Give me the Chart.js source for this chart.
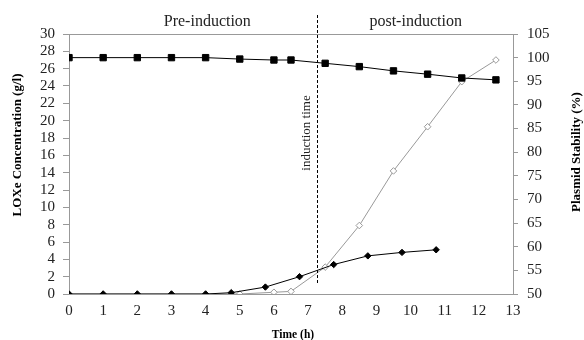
<!DOCTYPE html>
<html>
<head>
<meta charset="utf-8">
<script src="https://cdn.jsdelivr.net/npm/chart.js@4"></script>
<style>
  html, body { margin: 0; padding: 0; background: #fff; }
  #wrap { width: 584px; height: 340px; }
</style>
</head>
<body>
<div id="wrap"><canvas id="grafico"></canvas></div>
<script>
// datos
const tiempoLox = [0, 1, 2, 3, 4, 4.75, 5.75, 6.75, 7.75, 8.75, 9.75, 10.75];
const loxLleno = [0, 0, 0, 0, 0, 0.15, 0.8, 2.0, 3.4, 4.4, 4.8, 5.1];

const tiempoAbierto = [0, 1, 2, 3, 4, 5, 6, 6.5, 7.5, 8.5, 9.5, 10.5, 11.5, 12.5];
const loxAbierto = [0, 0, 0, 0, 0, 0, 0.2, 0.3, 3.1, 7.9, 14.2, 19.3, 24.5, 27.0];

const tiempoPlasmido = [0, 1, 2, 3, 4, 5, 6, 6.5, 7.5, 8.5, 9.5, 10.5, 11.5, 12.5];
const estabilidad = [100, 100, 100, 100, 100, 99.7, 99.5, 99.5, 98.8, 98.1, 97.2, 96.5, 95.7, 95.3];

const tiempoInduccion = 7.25;
const etiquetasFase = [
  { texto: 'Pre-induction', x: 4.05 },
  { texto: 'post-induction', x: 10.15 }
];

const fuente = "'Liberation Serif', 'Times New Roman', serif";
const gris = '#999999';

const puntos = (xs, ys) => xs.map((x, i) => ({ x: x, y: ys[i] }));

function textoVertical(ctx, texto, x, y) {
  ctx.save();
  ctx.translate(x, y);
  ctx.rotate(-Math.PI / 2);
  ctx.fillText(texto, 0, 0);
  ctx.restore();
}

// titulos, linea de induccion, textos de fase y borde superior
const extras = {
  id: 'extras',
  afterDatasetsDraw(chart) {
    const { ctx, chartArea, scales } = chart;
    ctx.save();
    ctx.strokeStyle = gris;
    ctx.lineWidth = 1;
    ctx.beginPath();
    ctx.moveTo(chartArea.left, Math.round(chartArea.top) + 0.5);
    ctx.lineTo(chartArea.right, Math.round(chartArea.top) + 0.5);
    ctx.stroke();

    const xi = Math.round(scales.x.getPixelForValue(tiempoInduccion)) + 0.5;
    ctx.strokeStyle = '#000';
    ctx.setLineDash([3, 2]);
    ctx.beginPath();
    ctx.moveTo(xi, 15);
    ctx.lineTo(xi, 283);
    ctx.stroke();
    ctx.setLineDash([]);

    ctx.textAlign = 'center';
    ctx.textBaseline = 'middle';
    ctx.fillStyle = '#222';
    ctx.font = '16px ' + fuente;
    etiquetasFase.forEach(e => {
      ctx.fillText(e.texto, scales.x.getPixelForValue(e.x), 22);
    });

    ctx.font = '13px ' + fuente;
    textoVertical(ctx, 'induction time', xi - 11, 133);

    ctx.fillStyle = '#000';
    ctx.font = 'bold 13px ' + fuente;
    textoVertical(ctx, 'LOXe Concentration (g/l)', 18, 145);
    textoVertical(ctx, 'Plasmid Stability (%)', 577, 152);
    ctx.font = 'bold 11.5px ' + fuente;
    ctx.fillText('Time (h)', 293, 335);
    ctx.restore();
  }
};

const fuenteTicks = { family: fuente, size: 15 };

window.grafica = new Chart(document.getElementById('grafico').getContext('2d'), {
  type: 'line',
  data: {
    datasets: [
      {
        label: 'LOXe',
        data: puntos(tiempoLox, loxLleno),
        yAxisID: 'y',
        borderColor: '#000',
        backgroundColor: '#000',
        borderWidth: 1,
        pointStyle: 'rectRot',
        pointRadius: 3.2,
        pointBorderWidth: 1
      },
      {
        label: 'Plasmid stability',
        data: puntos(tiempoPlasmido, estabilidad),
        yAxisID: 'y2',
        borderColor: '#000',
        backgroundColor: '#000',
        borderWidth: 1,
        pointStyle: 'rect',
        pointRadius: 4.5,
        pointBorderWidth: 1
      },
      {
        label: 'LOXe (open)',
        data: puntos(tiempoAbierto, loxAbierto),
        yAxisID: 'y',
        borderColor: gris,
        backgroundColor: '#fff',
        borderWidth: 1,
        pointStyle: 'rectRot',
        pointRadius: 3.3,
        pointBorderWidth: 1
      }
    ]
  },
  options: {
    responsive: true,
    maintainAspectRatio: false,
    animation: false,
    layout: { padding: { top: 34, left: 0, right: 0, bottom: 0 } },
    plugins: { legend: { display: false }, tooltip: { enabled: false } },
    elements: { line: { tension: 0 } },
    scales: {
      x: {
        type: 'linear',
        min: 0,
        max: 13,
        afterFit: s => { s.height = 46; },
        ticks: { stepSize: 1, autoSkip: false, color: '#222', font: fuenteTicks, padding: 8 },
        grid: { drawOnChartArea: false, drawTicks: false, color: gris },
        border: { color: gris }
      },
      y: {
        position: 'left',
        min: 0,
        max: 30,
        afterFit: s => { s.width = 69; },
        ticks: { stepSize: 2, autoSkip: false, color: '#222', font: fuenteTicks, padding: 8 },
        grid: { drawOnChartArea: false, tickLength: 6, color: gris },
        border: { color: gris }
      },
      y2: {
        position: 'right',
        min: 50,
        max: 105,
        afterFit: s => { s.width = 71; },
        ticks: { stepSize: 5, autoSkip: false, color: '#222', font: fuenteTicks, padding: 9 },
        grid: { drawOnChartArea: false, tickLength: 5, color: gris },
        border: { color: gris }
      }
    }
  },
  plugins: [extras]
});
</script>
</body>
</html>
